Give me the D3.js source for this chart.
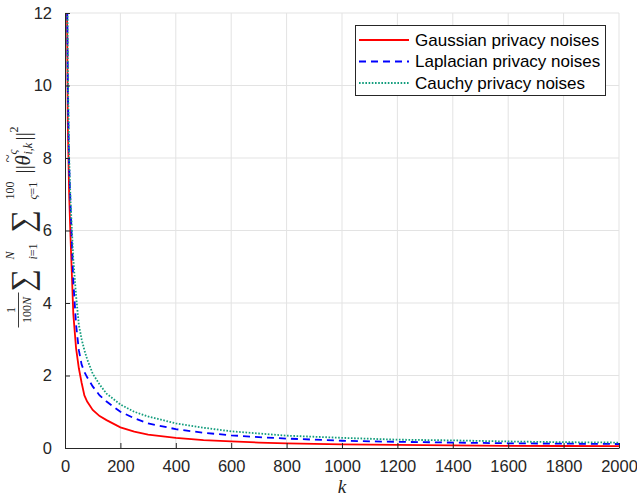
<!DOCTYPE html>
<html>
<head>
<meta charset="utf-8">
<script src="https://cdn.jsdelivr.net/npm/d3@7"></script>
<style>
  body { margin: 0; background: #fff; }
  svg { display: block; }
  .tick text { font-family: "Liberation Sans", Arial, sans-serif; font-size: 16.5px; fill: #262626; }
  .math { font-family: "Liberation Serif", "DejaVu Serif", serif; fill: #262626; }
</style>
</head>
<body>
<div id="chart"></div>
<script>
// iteration index k (sampled)
const kValues = [0, 1, 5, 10, 15, 20, 30, 40, 50, 60, 70, 80, 100, 125, 150, 200, 250, 300, 400, 500, 600, 700, 800, 1000, 1200, 1400, 1600, 1800, 2000];

const gaussian = [2.0, 30, 15, 9.0, 7.0, 5.8, 3.7, 2.75, 2.2, 1.8, 1.45, 1.28, 1.05, 0.88, 0.77, 0.57, 0.45, 0.37, 0.28, 0.22, 0.18, 0.15, 0.13, 0.10, 0.085, 0.07, 0.06, 0.055, 0.05];
const laplacian = [2.0, 30, 16, 10, 7.8, 6.7, 4.6, 3.4, 2.7, 2.3, 2.1, 1.95, 1.7, 1.45, 1.28, 1.0, 0.82, 0.68, 0.52, 0.42, 0.35, 0.30, 0.26, 0.20, 0.17, 0.15, 0.13, 0.12, 0.11];
const cauchy = [2.0, 30, 17, 10.5, 8.0, 6.8, 5.2, 4.2, 3.4, 3.0, 2.7, 2.45, 2.05, 1.75, 1.5, 1.2, 1.0, 0.87, 0.68, 0.56, 0.46, 0.40, 0.34, 0.28, 0.23, 0.21, 0.18, 0.16, 0.15];

const seriesNames = ["Gaussian privacy noises", "Laplacian privacy noises", "Cauchy privacy noises"];
const seriesColors = ["#ff0000", "#0000ff", "#139d7d"];
const seriesDash = [null, "7 5", "1.6 1.6"];

const xTicks = [0, 200, 400, 600, 800, 1000, 1200, 1400, 1600, 1800, 2000];
const yTicks = [0, 2, 4, 6, 8, 10, 12];

var width = 637, height = 497;
var margin = { top: 13, right: 18, bottom: 49, left: 65 };

var svg = d3.select("#chart").append("svg")
    .attr("width", width)
    .attr("height", height);

let x = d3.scaleLinear().domain([0, 2000]).range([margin.left, width - margin.right]);
let y = d3.scaleLinear().domain([0, 12]).range([height - margin.bottom, margin.top]);

// grid
svg.append("g")
    .selectAll("line")
    .data(xTicks.slice(1))
    .enter().append("line")
    .attr("x1", d => x(d)).attr("x2", d => x(d))
    .attr("y1", y(0)).attr("y2", y(12))
    .style("stroke", "#e3e3e3");
svg.append("g")
    .selectAll("line")
    .data(yTicks.slice(1))
    .enter().append("line")
    .attr("x1", x(0)).attr("x2", x(2000))
    .attr("y1", d => y(d)).attr("y2", d => y(d))
    .style("stroke", "#e3e3e3");

// lines
svg.append("clipPath").attr("id", "clip")
    .append("rect")
    .attr("x", x(0)).attr("y", y(12))
    .attr("width", x(2000) - x(0)).attr("height", y(0) - y(12));

let table = [gaussian, laplacian, cauchy].map(vals => vals.map((v, i) => [kValues[i], v]));
let line = d3.line().x(d => x(d[0])).y(d => y(d[1]));

svg.append("g").attr("clip-path", "url(#clip)")
    .selectAll("path")
    .data(table)
    .enter().append("path")
    .attr("d", line)
    .style("fill", "none")
    .style("stroke", (d, i) => seriesColors[i])
    .style("stroke-width", 1.8)
    .style("stroke-dasharray", (d, i) => seriesDash[i]);

// axes (ticks pointing inward)
let xAxis = svg.append("g")
    .attr("transform", "translate(0," + y(0) + ")")
    .call(d3.axisBottom(x).tickValues(xTicks).tickFormat(d3.format("d"))
        .tickSize(-5).tickPadding(12).tickSizeOuter(0));
let yAxis = svg.append("g")
    .attr("transform", "translate(" + x(0) + ",0)")
    .call(d3.axisLeft(y).tickValues(yTicks).tickFormat(d3.format("d"))
        .tickSize(-5).tickPadding(13).tickSizeOuter(0));
[xAxis, yAxis].forEach(a => {
    a.select(".domain").style("stroke", "#262626");
    a.selectAll(".tick line").style("stroke", "#262626");
});

// x label
svg.append("text")
    .attr("class", "math")
    .attr("x", (x(0) + x(2000)) / 2)
    .attr("y", 493)
    .attr("text-anchor", "middle")
    .style("font-style", "italic")
    .style("font-size", "19px")
    .text("k");

// y label (rotated LaTeX-like expression)
let yl = svg.append("g")
    .attr("class", "math")
    .attr("transform", "translate(22," + ((y(0) + y(12)) / 2) + ") rotate(-90)");

function piece(tx, ty, size, str, italic, anchor) {
    return yl.append("text")
        .attr("x", tx).attr("y", ty)
        .attr("text-anchor", anchor || "start")
        .style("font-size", size + "px")
        .style("font-style", italic ? "italic" : "normal")
        .text(str);
}

// fraction 1/(100N)
piece(-79.5, -7, 12, "1", false, "middle");
yl.append("line").attr("x1", -97).attr("x2", -62).attr("y1", -3.5).attr("y2", -3.5)
    .style("stroke", "#262626").style("stroke-width", 0.9);
let den = piece(-79.5, 8.5, 12, "100", false, "middle");
den.append("tspan").style("font-style", "italic").text("N");

// sum i=1..N
piece(-61, 11, 32, "\u2211", false);
piece(-29, -8, 12, "N", true);
let s1 = piece(-29, 15, 12, "i", true);
s1.append("tspan").style("font-style", "normal").text("=1");

// sum ς=1..100
piece(-2, 11, 32, "\u2211", false);
piece(31, -8, 12, "100", false);
let s2 = piece(31, 15, 12, "\u03c2", true);
s2.append("tspan").style("font-style", "normal").text("=1");

// ||θ~||^2
piece(57, 8, 21, "||", false);
piece(65, 8, 21, "\u03b8", true);
piece(68, -9, 15, "~", false);
piece(76, -5, 12, "\u03c2", true);
piece(76, 10, 12, "i,k", true);
piece(90, 8, 21, "||", false);
piece(98, -4, 12, "2", false);

// legend
let lg = svg.append("g");
lg.append("rect")
    .attr("x", 355.5).attr("y", 25.5)
    .attr("width", 250).attr("height", 70)
    .style("fill", "#fff")
    .style("stroke", "#262626")
    .style("stroke-width", 1);

let rowY = d3.scalePoint().domain(seriesNames).range([40, 83]);
let rows = lg.selectAll("g.row")
    .data(seriesNames)
    .enter().append("g")
    .attr("transform", d => "translate(0," + rowY(d) + ")");
rows.append("line")
    .attr("x1", 359).attr("x2", 409)
    .style("stroke", (d, i) => seriesColors[i])
    .style("stroke-width", 1.8)
    .style("stroke-dasharray", (d, i) => seriesDash[i]);
rows.append("text")
    .attr("x", 415)
    .attr("dy", "0.35em")
    .style("font-family", "'Liberation Sans', Arial, sans-serif")
    .style("font-size", "17px")
    .style("fill", "#000")
    .text(d => d);
</script>
</body>
</html>
